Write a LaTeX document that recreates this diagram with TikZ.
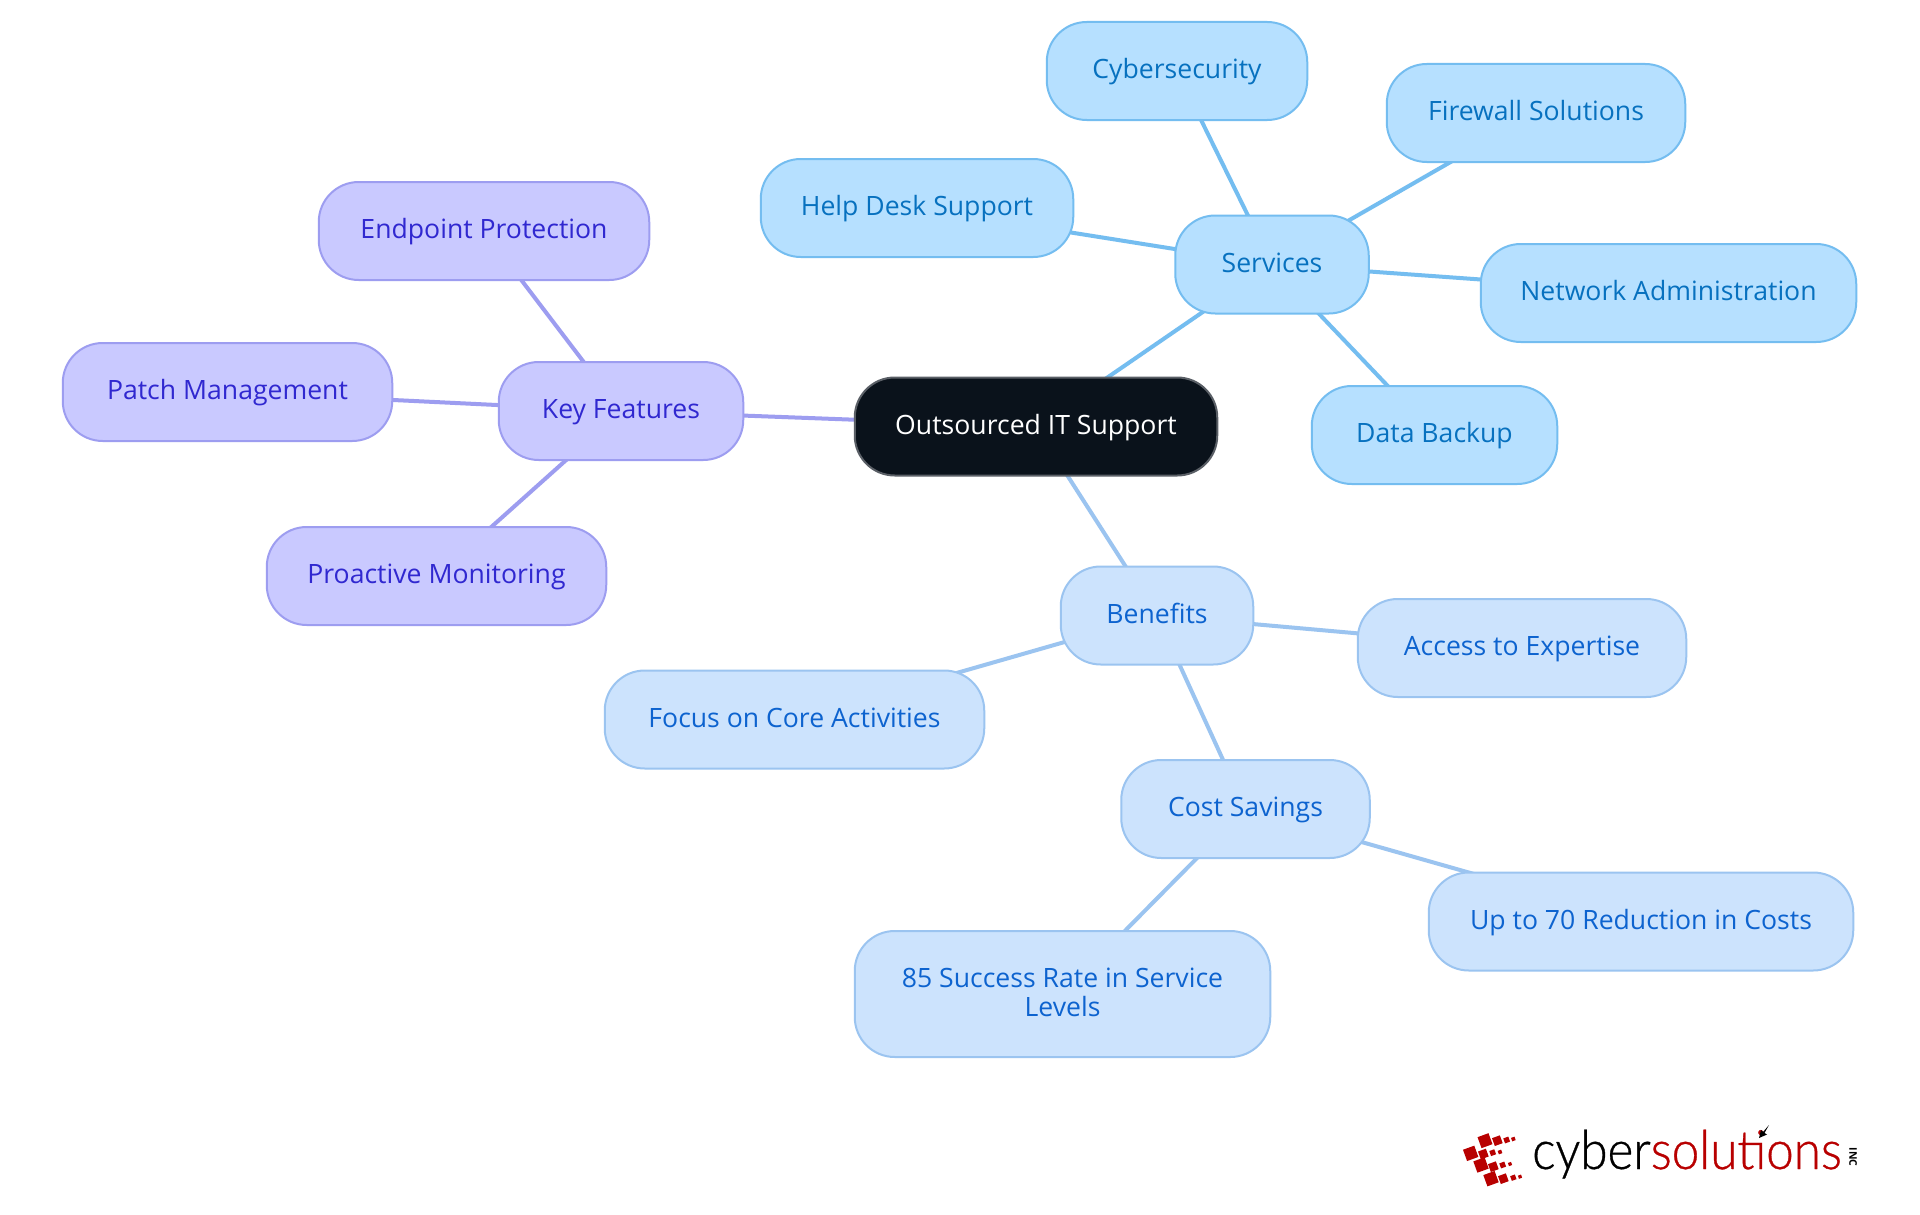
\documentclass[tikz,border=0pt]{standalone}
\usepackage{fontspec}
\setmainfont{Open Sans}
\newfontfamily\logofont{Lato}[UprightFont=* Light,FakeStretch=0.915,FakeBold=0.6]
\usetikzlibrary{backgrounds}
\definecolor{svcfill}{HTML}{B6E0FF}\definecolor{svcline}{HTML}{74BDF0}\definecolor{svctext}{HTML}{0771BF}
\definecolor{benfill}{HTML}{CCE3FD}\definecolor{benline}{HTML}{9BC4F0}\definecolor{bentext}{HTML}{0D63CF}
\definecolor{keyfill}{HTML}{C9C9FF}\definecolor{keyline}{HTML}{9D9DF0}\definecolor{keytext}{HTML}{3028D0}
\definecolor{rootfill}{HTML}{0A121B}\definecolor{rootline}{HTML}{5A5F66}
\definecolor{logored}{HTML}{B80000}
\tikzset{
  pill/.style={rectangle,rounded corners=40pt,inner sep=0pt,line width=2pt,align=center,
    font=\fontsize{26.6}{29}\selectfont,text height=21.5pt,text depth=6pt},
  root/.style={pill,fill=rootfill,draw=rootline,text=white},
  svc/.style={pill,fill=svcfill,draw=svcline,text=svctext},
  ben/.style={pill,fill=benfill,draw=benline,text=bentext},
  key/.style={pill,fill=keyfill,draw=keyline,text=keytext},
  link/.style={line width=4pt},
  svclink/.style={link,draw=svcline},
  benlink/.style={link,draw=benline},
  keylink/.style={link,draw=keyline},
  size/.style 2 args={minimum width=#1pt-1.5pt,minimum height=#2pt}
}
\begin{document}
\begin{tikzpicture}[x=1pt,y=-1pt]
\useasboundingbox (0,0) rectangle (1920,1215);
\begin{pgfonlayer}{background}
\fill[white] (0,0) rectangle (1920,1215);
\end{pgfonlayer}
\node[root,size={364}{98}] (root) at (1036,426.5) {Outsourced IT Support};
\node[svc,size={195}{98}] (services) at (1272,264.5) {Services};
\node[svc,size={262}{98}] (cyber) at (1177,71) {Cybersecurity};
\node[svc,size={300}{98}] (firewall) at (1536,113) {Firewall Solutions};
\node[svc,size={314}{98}] (help) at (917,208) {Help Desk Support};
\node[svc,size={377}{98}] (network) at (1668.5,293) {Network Administration};
\node[svc,size={247}{98}] (backup) at (1434.5,435) {Data Backup};
\node[key,size={246}{98}] (features) at (621,411) {Key Features};
\node[key,size={332}{98}] (endpoint) at (484,231) {Endpoint Protection};
\node[key,size={331}{98}] (patch) at (227.5,392) {Patch Management};
\node[key,size={341}{98}] (proactive) at (436.5,576) {Proactive Monitoring};
\node[ben,size={194}{98}] (benefits) at (1157,615.5) {Benefits};
\node[ben,size={330}{98}] (access) at (1522,648) {Access to Expertise};
\node[ben,size={381}{98}] (focus) at (794.5,719.5) {Focus on Core Activities};
\node[ben,size={250}{98}] (cost) at (1245.5,809) {Cost Savings};
\node[ben,size={426}{98}] (reduction) at (1641,921.5) {Up to 70 Reduction in Costs};
\node[ben,size={417}{126},text height=50pt,text depth=6pt] (success) at (1062.5,994) {85 Success Rate in Service\\Levels};
\begin{pgfonlayer}{background}
\draw[svclink] (root.center) -- (services.center);
\draw[svclink] (services.center) -- (cyber.center);
\draw[svclink] (services.center) -- (firewall.center);
\draw[svclink] (services.center) -- (help.center);
\draw[svclink] (services.center) -- (network.center);
\draw[svclink] (services.center) -- (backup.center);
\draw[keylink] (root.center) -- (features.center);
\draw[keylink] (features.center) -- (endpoint.center);
\draw[keylink] (features.center) -- (patch.center);
\draw[keylink] (features.center) -- (proactive.center);
\draw[benlink] (root.center) -- (benefits.center);
\draw[benlink] (benefits.center) -- (access.center);
\draw[benlink] (benefits.center) -- (focus.center);
\draw[benlink] (benefits.center) -- (cost.center);
\draw[benlink] (cost.center) -- (reduction.center);
\draw[benlink] (cost.center) -- (success.center);
\end{pgfonlayer}
% logo
\foreach \zx/\zy/\s in {135/92/35,172/92/25,200/90/16,220/87/11,
  92/130/36,130/132/25,158/128/16,180/126/11,
  123/165/36,160/170/25,188/165/16,210/162/10,
  153/206/36,190/206/25,220/203/15,240/200/10}{
  \fill[logored,shift={(1440+\zx/3,1110+\zy/3)},rotate=20]
    (-\s/6,-\s/6) rectangle (\s/6,\s/6);
}
\node[anchor=base west,inner sep=0pt,font=\logofont\fontsize{54}{54}\selectfont] (logotext) at (1532,1169)
  {\color{black}cyber\color{logored}solutions};
\node[rotate=-90,inner sep=0pt,font=\fontsize{10.5}{11}\selectfont\bfseries,text=black] (inc) at (1853,1157) {INC};
\fill[black] (1769,1125) -- (1764.5,1133) -- (1767,1134.5) -- (1759,1138) -- (1761,1130) -- (1763,1132) -- cycle;
\end{tikzpicture}
\end{document}
